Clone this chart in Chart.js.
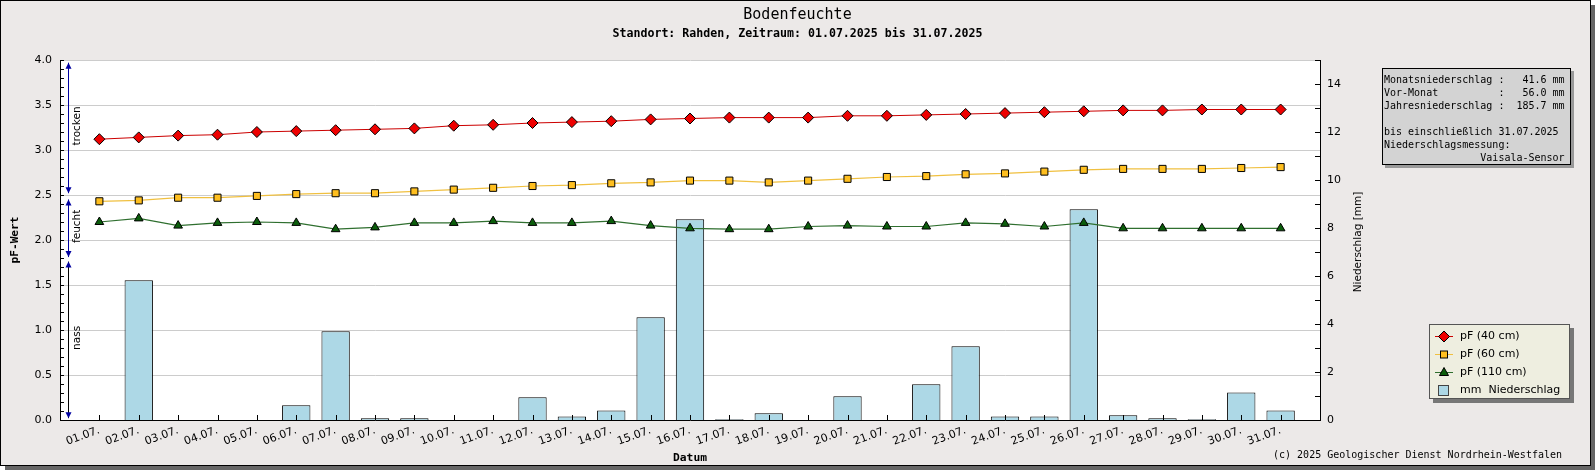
<!DOCTYPE html>
<html><head><meta charset="utf-8">
<script src="https://cdn.jsdelivr.net/npm/chart.js@4.4.1/dist/chart.umd.min.js"></script>
<style>
html,body{margin:0;padding:0;width:1595px;height:470px;overflow:hidden;background:#fff;position:relative;}
#frame{position:absolute;left:0;top:0;width:1589px;height:464px;border:1px solid #000;background:#ECE9E8;box-shadow:5px 5px 0 #666;}
#c{position:absolute;left:0;top:0;}
.t{position:absolute;white-space:pre;color:#000;}
#title{left:0;width:1595px;text-align:center;top:7px;font:15px/15px "DejaVu Sans Mono",monospace;}
#sub{left:0;width:1595px;text-align:center;top:27px;font:bold 11.6px/12px "DejaVu Sans Mono",monospace;}
#rtitle{left:1257px;top:235px;width:200px;height:14px;text-align:center;font:10.5px/14px "DejaVu Sans",sans-serif;transform:rotate(-90deg);}
#copy{right:33px;top:449px;font:10px/12px "DejaVu Sans Mono",monospace;}
#info{position:absolute;left:1382px;top:68px;width:189px;height:97px;box-sizing:border-box;background:#D3D3D3;border:1px solid #000;box-shadow:3px 3px 0 #999;font:10px/13px "DejaVu Sans Mono",monospace;padding:4px 0 0 1px;white-space:pre;color:#000;}
#legend{position:absolute;left:1429px;top:324px;width:141px;height:75px;box-sizing:border-box;background:#EEEEE0;border:1px solid #555;box-shadow:4px 4px 0 #777;}
.row{position:absolute;left:0;height:18px;width:139px;}
.row svg{position:absolute;left:4px;top:0;}
.row span{position:absolute;left:30px;top:0;font:11px/18px "DejaVu Sans",sans-serif;color:#000;white-space:pre;}
</style></head>
<body>
<div id="frame"></div>
<canvas id="c" width="1595" height="470"></canvas>
<div class="t" id="title">Bodenfeuchte</div>
<div class="t" id="sub">Standort: Rahden, Zeitraum: 01.07.2025 bis 31.07.2025</div>
<div class="t" id="rtitle">Niederschlag [mm]</div>
<div class="t" id="copy">(c) 2025 Geologischer Dienst Nordrhein-Westfalen</div>
<div id="info"></div>
<div id="legend"></div>
<script>
// ---- data ----
const days = ['01.07.','02.07.','03.07.','04.07.','05.07.','06.07.','07.07.','08.07.','09.07.','10.07.',
  '11.07.','12.07.','13.07.','14.07.','15.07.','16.07.','17.07.','18.07.','19.07.','20.07.',
  '21.07.','22.07.','23.07.','24.07.','25.07.','26.07.','27.07.','28.07.','29.07.','30.07.','31.07.'];
const pf40 = [3.12,3.14,3.16,3.17,3.20,3.21,3.22,3.23,3.24,3.27,3.28,3.30,3.31,3.32,3.34,3.35,3.36,3.36,3.36,3.38,3.38,3.39,3.40,3.41,3.42,3.43,3.44,3.44,3.45,3.45,3.45];
const pf60 = [2.43,2.44,2.47,2.47,2.49,2.51,2.52,2.52,2.54,2.56,2.58,2.60,2.61,2.63,2.64,2.66,2.66,2.64,2.66,2.68,2.70,2.71,2.73,2.74,2.76,2.78,2.79,2.79,2.79,2.80,2.81];
const pf110 = [2.20,2.24,2.16,2.19,2.20,2.19,2.12,2.14,2.19,2.19,2.21,2.19,2.19,2.21,2.16,2.13,2.12,2.12,2.15,2.16,2.15,2.15,2.19,2.18,2.15,2.19,2.13,2.13,2.13,2.13,2.13];
const rain = [0,5.82,0,0,0,0.61,3.70,0.07,0.07,0,0,0.95,0.15,0.40,4.28,8.36,0.03,0.28,0,0.99,0,1.49,3.07,0.15,0.15,8.78,0.20,0.07,0.03,1.15,0.40];
const leftTicks = [0,0.5,1,1.5,2,2.5,3,3.5,4];
const rightTicks = [0,2,4,6,8,10,12,14];
const zoneLabels = ['trocken','feucht','nass'];
const zoneTop = [3.97,2.45,1.76];
const zoneBottom = [2.52,1.81,0.02];
const zoneLine = ['#0000A0','#0000A0','#000000'];
const infoLines = ['Monatsniederschlag :   41.6 mm','Vor-Monat          :   56.0 mm','Jahresniederschlag :  185.7 mm','','bis einschließlich 31.07.2025','Niederschlagsmessung:','                Vaisala-Sensor'];
const seriesNames = ['pF (40 cm)','pF (60 cm)','pF (110 cm)','mm  Niederschlag'];

document.getElementById('info').textContent = infoLines.join('\n');

const toXY = arr => arr.map((v,i)=>({x:i+1,y:v}));

// legend (HTML)
const legSym = [
  '<svg width="20" height="18"><line x1="1" y1="9.5" x2="19" y2="9.5" stroke="#CC0000"/><polygon points="10,4 15.5,9.5 10,15 4.5,9.5" fill="#EE0000" stroke="#000"/></svg>',
  '<svg width="20" height="18"><line x1="1" y1="9.5" x2="19" y2="9.5" stroke="#F0C040"/><rect x="6.5" y="6" width="7" height="7" fill="#FFBF1F" stroke="#000"/></svg>',
  '<svg width="20" height="18"><line x1="1" y1="9.5" x2="19" y2="9.5" stroke="#2F6F2F"/><polygon points="10,4.5 14.5,12.5 5.5,12.5" fill="#0B5D0B" stroke="#000"/></svg>',
  '<svg width="20" height="18"><rect x="4.5" y="4.5" width="10" height="10" fill="#ADD8E6" stroke="#444"/></svg>'
];
const legCenters = [10.7,29,47.3,65.3];
document.getElementById('legend').innerHTML = seriesNames.map((n,i)=>
  '<div class="row" style="top:'+(legCenters[i]-9)+'px">'+legSym[i]+'<span>'+n+'</span></div>').join('');

const plotDeco = {
  id:'plotDeco',
  beforeDraw(chart){
    const {ctx, chartArea:a} = chart;
    ctx.save(); ctx.fillStyle='#fff'; ctx.fillRect(a.left,a.top,a.right-a.left,a.bottom-a.top); ctx.restore();
  },
  afterDraw(chart){
    const {ctx, chartArea:a, scales:{x,y,y2}} = chart;
    ctx.save();
    ctx.strokeStyle='#000'; ctx.lineWidth=1; ctx.beginPath();
    days.forEach((d,i)=>{const px=Math.round(x.getPixelForValue(i+1))+0.5; ctx.moveTo(px,a.bottom); ctx.lineTo(px,a.bottom-5);});
    for(let k=0;k<=40;k++){const py=Math.round(y.getPixelForValue(k/10))+0.5; ctx.moveTo(a.left,py); ctx.lineTo(a.left+4,py);}
    for(let k=0;k<=15;k++){const py=Math.round(y2.getPixelForValue(k))+0.5; ctx.moveTo(a.right,py); ctx.lineTo(a.right-5,py);}
    ctx.stroke();
    // moisture zones
    const zx = Math.round(a.left+8)+0.5;
    zoneLabels.forEach((lab,i)=>{
      const yt=y.getPixelForValue(zoneTop[i]), yb=y.getPixelForValue(zoneBottom[i]);
      ctx.strokeStyle=zoneLine[i]; ctx.beginPath(); ctx.moveTo(zx,yt); ctx.lineTo(zx,yb); ctx.stroke();
      ctx.fillStyle='#0000A0';
      ctx.beginPath(); ctx.moveTo(zx,yt); ctx.lineTo(zx-3,yt+6); ctx.lineTo(zx+3,yt+6); ctx.closePath(); ctx.fill();
      ctx.beginPath(); ctx.moveTo(zx,yb); ctx.lineTo(zx-3,yb-6); ctx.lineTo(zx+3,yb-6); ctx.closePath(); ctx.fill();
      ctx.save();
      ctx.translate(zx+8.5,(yt+yb)/2-2); ctx.rotate(-Math.PI/2);
      ctx.fillStyle='#000'; ctx.font='10.5px "DejaVu Sans"'; ctx.textAlign='center'; ctx.textBaseline='middle';
      ctx.fillText(lab,0,0);
      ctx.restore();
    });
    ctx.restore();
  }
};

new Chart(document.getElementById('c'), {
  data:{
    datasets:[
      {type:'line',label:seriesNames[0],data:toXY(pf40),yAxisID:'y',borderColor:'#CC0000',borderWidth:1,
       pointStyle:'rectRot',pointRadius:5.5,pointBackgroundColor:'#EE0000',pointBorderColor:'#000',pointBorderWidth:1,order:1},
      {type:'line',label:seriesNames[1],data:toXY(pf60),yAxisID:'y',borderColor:'#F0C040',borderWidth:1.2,
       pointStyle:'rect',pointRadius:5,pointBackgroundColor:'#FFBF1F',pointBorderColor:'#000',pointBorderWidth:1,order:2},
      {type:'line',label:seriesNames[2],data:toXY(pf110),yAxisID:'y',borderColor:'#2F6F2F',borderWidth:1.2,
       pointStyle:'triangle',pointRadius:5,pointBackgroundColor:'#0B5D0B',pointBorderColor:'#000',pointBorderWidth:1,order:3},
      {type:'bar',label:seriesNames[3],data:toXY(rain),yAxisID:'y2',backgroundColor:'#ADD8E6',borderColor:'#000',borderWidth:1,
       barPercentage:0.9,categoryPercentage:0.8,order:10}
    ]
  },
  options:{
    responsive:false, animation:false, events:[], devicePixelRatio:1,
    layout:{padding:{left:0,right:215,top:60,bottom:0}},
    plugins:{legend:{display:false},title:{display:false},tooltip:{enabled:false}},
    scales:{
      x:{type:'linear',min:0,max:32,offset:false,
        afterBuildTicks(s){s.ticks = [{value:0}].concat(days.map((d,i)=>({value:i+1})), [{value:days.length+1}]);},
        afterFit(s){s.height=50; s.paddingLeft=0; s.paddingRight=0;},
        ticks:{autoSkip:false,minRotation:20,maxRotation:20,padding:4,color:'#000',
          font:{family:'DejaVu Sans',size:11},callback:(v)=>days[v-1]||''},
        grid:{display:false,drawTicks:false,offset:false},
        border:{display:true,color:'#000',width:1},
        title:{display:true,text:'Datum',color:'#000',font:{family:'DejaVu Sans Mono',size:11.3,weight:'bold'},padding:{top:0,bottom:5}}
      },
      y:{type:'linear',position:'left',min:0,max:4,
        afterBuildTicks(s){s.ticks = leftTicks.map(v=>({value:v}));},
        afterFit(s){s.width=60;},
        ticks:{padding:8,color:'#000',font:{family:'DejaVu Sans',size:11},callback:(v)=>v.toFixed(1)},
        grid:{color:'#CCCCCC',drawTicks:false},
        border:{display:true,color:'#000',width:1},
        title:{display:true,text:'pF-Wert',color:'#000',font:{family:'DejaVu Sans Mono',size:11.2,weight:'bold'},padding:{top:8.5,bottom:0}}
      },
      y2:{type:'linear',position:'right',min:0,max:15,
        afterBuildTicks(s){s.ticks = rightTicks.map(v=>({value:v}));},
        afterFit(s){s.width=60;},
        ticks:{padding:7,color:'#000',font:{family:'DejaVu Sans',size:11},callback:(v)=>String(v)},
        grid:{display:false,drawTicks:false},
        border:{display:true,color:'#000',width:1}
      }
    }
  },
  plugins:[plotDeco]
});
</script>
</body></html>
